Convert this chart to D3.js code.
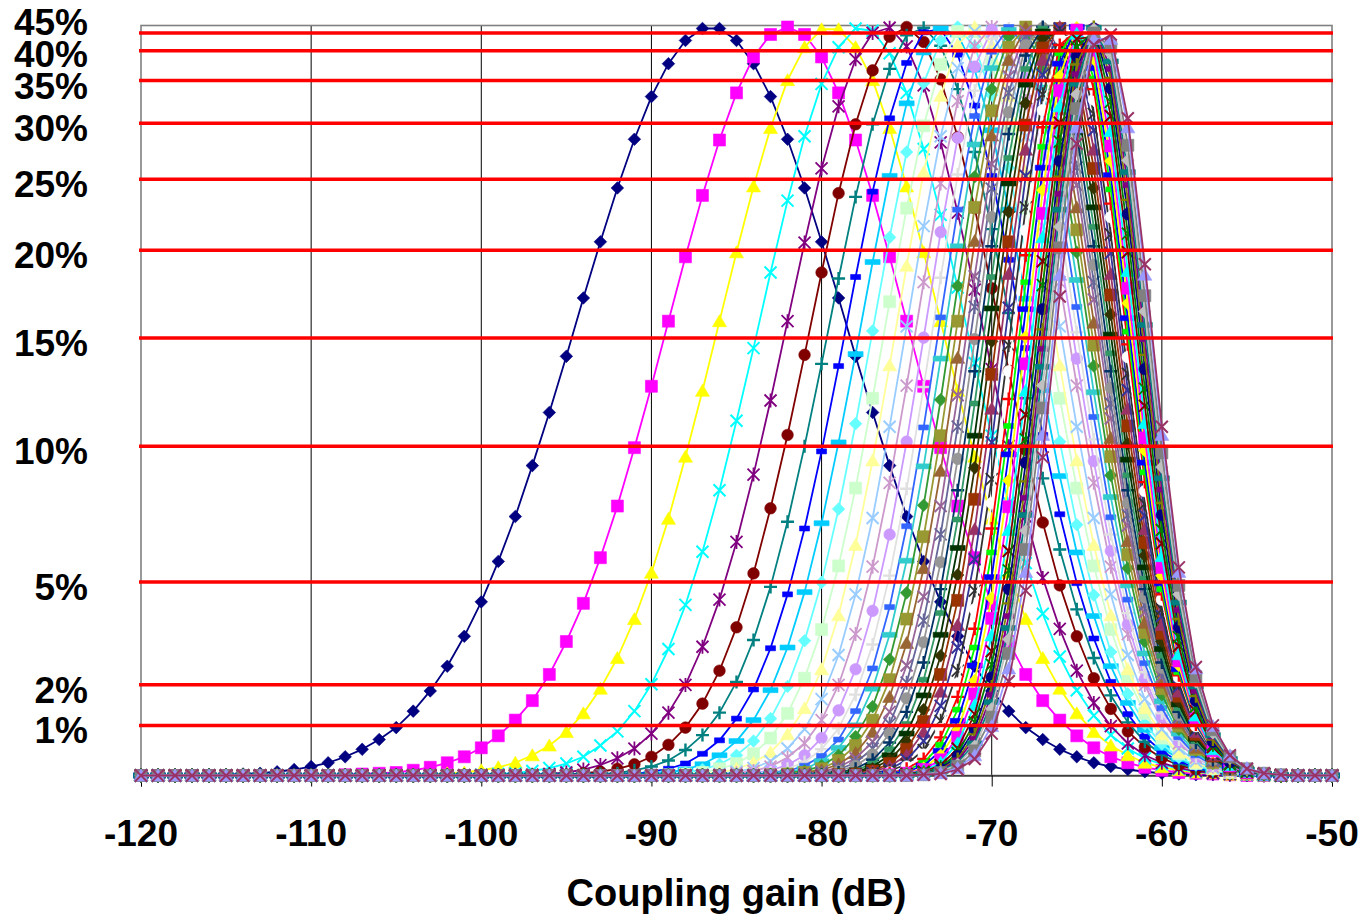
<!DOCTYPE html>
<html>
<head>
<meta charset="utf-8">
<script src="https://cdn.jsdelivr.net/npm/d3@7"></script>
<style>
  body { margin: 0; background: #ffffff; }
  svg { display: block; }
  text { font-family: "Liberation Sans", Arial, Helvetica, sans-serif; font-weight: bold; fill: #000; }
</style>
</head>
<body>
<svg id="chart" width="1364" height="917"></svg>
<script>
// Coupling gain grid (dB), one point per dB
const gainSteps = [-120,-119,-118,-117,-116,-115,-114,-113,-112,-111,-110,-109,-108,-107,-106,-105,-104,-103,-102,-101,
  -100,-99,-98,-97,-96,-95,-94,-93,-92,-91,-90,-89,-88,-87,-86,-85,-84,-83,-82,-81,-80,-79,-78,-77,-76,-75,-74,-73,-72,-71,
  -70,-69,-68,-67,-66,-65,-64,-63,-62,-61,-60,-59,-58,-57,-56,-55,-54,-53,-52,-51,-50];
const gainTicks = [-120,-110,-100,-90,-80,-70,-60,-50];
const gainDomain = [-120, -50];

// Horizontal reference levels: tail probability and the relative density (per mille of peak) it sits at
const levelLabels = ["1%","2%","5%","10%","15%","20%","25%","30%","35%","40%","45%"];
const levelValues = [66.9,121.3,258.5,439.9,584.5,701.8,796.6,871.5,928.5,968.4,992.1];

// Relative density (per mille of peak). Each curve starts at seriesStart (dB); outside its list it is 0.
const seriesStart = [-116,-108,-104,-100,-98,-96,-94,-92,-91,-90,-89,-88,-87,-86,-85,-85,-84,-84,-83,-83,-82,-82,-81,-81,
  -80,-80,-80,-79,-79,-78,-78,-78,-77,-77,-77,-76,-76,-76,-75,-75,-75,-75,-75,-75,-74,-74,-74,-74,-74];

const seriesValues = [
  [1,1,2,3,5,8,12,17,25,35,48,64,86,113,146,186,232,286,346,414,485,560,638,713,785,850,907,951,982,998,
   998,982,951,907,850,785,713,638,560,485,414,346,286,232,186,146,113,86,64,48,35,25,17,12,8,5,3,2,1,1],
  [1,2,3,4,7,11,17,25,37,53,74,100,135,179,230,291,360,438,520,607,693,775,849,912,960,990,1000,
   990,960,912,849,775,693,607,520,438,360,291,230,179,135,100,74,53,37,25,17,11,7,4,3,2,1],
  [1,1,3,4,7,11,17,27,40,58,83,116,157,209,271,343,426,514,607,699,787,865,929,973,997,
   997,973,929,865,787,699,607,514,426,343,271,209,157,116,83,58,40,27,17,11,7,4,3,1,1],
  [1,2,3,6,10,16,25,40,59,86,122,169,228,299,381,474,571,672,768,854,924,973,998,
   995,965,912,837,749,652,551,454,364,284,216,159,114,80,54,36,23,15,9,5,3,2,1],
  [1,1,2,4,8,14,23,36,56,84,121,172,235,312,402,501,607,712,811,894,957,992,
   999,974,922,846,752,649,543,440,346,264,196,140,97,66,43,27,17,10,6,3,2,1],
  [1,1,3,5,9,15,25,41,64,96,140,198,270,357,455,562,672,778,870,942,987,
   1000,980,930,853,758,651,541,435,338,254,186,130,89,59,38,23,14,8,4,2,1],
  [1,2,3,7,12,20,34,54,84,125,181,252,339,440,550,664,773,870,944,989,
   999,975,917,833,730,618,504,397,302,222,157,107,71,45,28,16,9,5,3,1],
  [1,2,5,9,16,29,47,76,115,170,242,330,433,547,666,780,878,952,993,
   997,963,895,801,689,571,455,349,257,183,125,82,52,32,19,10,6,3,1],
  [1,2,4,8,15,27,46,74,114,171,245,337,445,563,686,801,898,966,998,
   990,943,862,756,637,515,400,298,213,146,97,61,37,22,12,7,3,2,1],
  [1,2,4,8,15,27,46,76,119,180,258,356,470,594,719,833,925,982,
   1000,974,909,812,695,569,446,335,241,165,109,69,42,24,14,7,3,2,1],
  [1,2,4,9,16,29,50,83,130,195,280,384,504,633,758,868,950,994,
   994,950,868,758,633,504,384,280,195,130,83,50,29,16,9,4,2,1],
  [1,2,4,9,17,31,55,90,142,214,308,421,548,681,806,908,976,1000,
   976,908,806,681,548,421,308,214,142,90,55,31,17,9,4,2,1],
  [1,2,5,10,19,36,62,102,161,242,344,466,600,734,854,945,994,
   994,945,854,734,600,466,344,242,161,102,62,36,19,10,5,2,1],
  [1,3,6,12,24,43,74,121,189,279,391,521,659,791,901,974,1000,
   974,901,791,659,521,391,279,189,121,74,43,24,12,6,3,1],
  [1,3,7,14,27,50,87,142,220,322,446,585,726,852,947,996,
   990,932,829,699,557,420,300,202,129,78,45,25,12,6,3,1],
  [1,2,4,9,18,35,63,108,175,267,383,519,665,803,915,984,
   998,956,863,736,592,449,322,217,138,83,48,25,13,6,3,1],
  [1,3,6,13,26,48,86,143,225,333,465,612,756,881,967,1000,
   973,892,770,626,479,345,235,150,90,51,27,14,7,3,1],
  [1,2,4,9,19,37,67,116,188,287,413,557,707,843,945,996,
   987,919,805,662,512,372,254,163,99,56,30,15,7,3,1],
  [1,3,6,13,27,52,92,155,244,361,502,654,800,917,987,
   996,944,838,699,547,401,277,179,108,62,33,16,8,3,1],
  [1,2,4,9,20,40,74,128,209,319,454,607,759,888,973,
   1000,961,865,729,575,426,295,191,116,66,35,17,8,3,1],
  [1,3,7,15,30,58,105,177,277,407,558,714,855,956,999,
   975,890,759,605,451,313,204,124,70,37,19,8,4,1],
  [1,2,5,11,23,45,85,147,239,360,508,667,817,934,994,
   988,914,789,636,477,334,218,132,76,40,20,9,4,2],
  [1,3,8,17,36,69,124,207,322,466,626,784,912,987,
   994,932,812,659,497,348,228,138,78,41,20,9,4,2],
  [1,2,6,13,28,56,103,178,285,423,583,746,886,976,
   999,948,835,682,518,364,238,144,81,43,21,9,4,1],
  [1,4,9,21,44,85,151,249,381,540,707,857,962,1000,
   962,857,707,540,381,249,151,85,44,21,9,4,1],
  [1,3,7,16,35,69,128,217,342,497,666,825,944,998,
   975,879,733,564,401,263,160,90,46,22,10,4,1],
  [1,2,5,12,27,56,107,188,304,454,624,791,923,994,
   985,901,759,589,422,278,169,95,49,23,10,4,2],
  [1,4,9,21,45,88,160,268,411,580,753,898,985,
   993,921,785,616,443,294,179,99,52,25,11,4,2],
  [1,2,6,16,35,72,135,234,369,536,713,869,972,
   998,940,811,642,467,311,190,106,55,26,11,4,2],
  [2,5,12,27,58,112,201,329,490,670,836,956,1000,
   956,836,670,490,329,201,112,58,27,12,5,2],
  [1,3,8,21,46,93,171,289,445,625,801,936,998,
   971,862,698,515,347,213,119,61,29,12,5,2],
  [1,2,6,15,34,73,140,247,396,575,759,910,992,
   983,884,723,537,363,222,124,63,29,12,5,2],
  [1,4,12,28,62,123,222,364,540,728,889,985,
   990,903,746,559,380,235,131,66,31,13,5,2],
  [1,3,9,22,51,105,196,330,503,695,866,976,
   995,917,764,576,392,242,134,68,31,13,5,2],
  [1,2,7,17,41,88,171,298,467,659,840,965,
   998,931,783,593,405,249,138,69,31,13,4,2],
  [2,5,13,33,73,147,265,429,623,812,951,
   1000,945,802,611,418,257,142,70,31,13,4,1],
  [1,3,10,27,61,127,237,394,586,782,934,999,
   957,821,631,434,267,147,73,32,13,4,1],
  [1,3,8,21,51,109,210,359,550,751,915,996,
   969,841,651,451,278,153,76,33,13,4,1],
  [2,6,17,43,94,187,328,514,719,894,991,
   979,861,674,471,293,162,80,35,14,5,1],
  [2,5,14,36,82,166,300,482,687,872,984,
   987,881,699,494,310,173,86,38,15,5,2],
  [1,4,11,30,71,148,274,449,655,847,973,
   994,900,724,517,328,185,92,41,16,6,2],
  [1,3,9,26,62,131,249,418,623,821,961,
   998,918,750,543,348,198,100,45,18,6,2],
  [1,3,8,22,55,119,230,393,596,800,950,
   1000,932,769,562,364,209,106,48,19,7,2],
  [1,2,7,20,49,108,213,371,570,777,937,1000,
   944,789,583,382,221,113,52,21,7,2,1],
  [2,6,17,43,98,197,348,546,756,924,999,
   954,806,602,397,231,119,54,22,8,2,1],
  [1,5,15,39,89,182,327,521,733,910,997,
   964,822,620,412,242,125,57,23,8,3,1],
  [1,4,12,33,78,163,302,491,705,891,992,
   973,842,641,431,254,132,61,25,9,3,1],
  [1,3,10,27,66,143,272,455,669,866,984,
   984,866,669,455,272,143,66,27,10,3,1],
  [1,2,8,22,56,126,247,425,640,844,976,
   990,878,683,466,278,145,67,27,9,3,1]
];

// Series colours, in drawing order
const seriesColors = [
  "#000080","#FF00FF","#FFFF00","#00FFFF","#800080","#800000","#008080","#0000FF",
  "#00CCFF","#66FFFF","#CCFFCC","#FFFF99","#99CCFF","#CC99CC","#CC99FF","#E0E0E0",
  "#3366FF","#33CCCC","#339933","#999933","#996633","#996699","#666699","#969696",
  "#003366","#339966","#003300","#333300","#993300","#993366","#333399","#333333",
  "#FFFFFF","#FF0000","#00FF00","#0000FF","#FFFF00","#FF00FF","#00FFFF","#800000",
  "#008000","#000080","#808000","#800080","#008080","#C0C0C0","#808080","#9999FF","#993366"
];
const markerCycle = ["diamond","square","triangle","x","star","circle","plus","dot","dash"];

// ---------------------------------------------------------------------------
const svg = d3.select("#chart");
const W = 1364, H = 917;
const plot = { left: 141, right: 1332, top: 25.5, bottom: 775.5 };

const x = d3.scaleLinear().domain(gainDomain).range([plot.left, plot.right]);
const y = d3.scaleLinear().domain([0, 1000]).range([plot.bottom, 27]);

svg.append("rect").attr("width", W).attr("height", H).attr("fill", "#fff");

// vertical gridlines
svg.append("g").selectAll("line")
  .data(gainTicks.filter(t => t > gainDomain[0] && t < gainDomain[1]))
  .join("line")
  .attr("x1", d => x(d)).attr("x2", d => x(d))
  .attr("y1", plot.top).attr("y2", plot.bottom)
  .attr("stroke", "#000").attr("stroke-width", 1);

// plot frame (grey)
svg.append("rect")
  .attr("x", plot.left).attr("y", plot.top)
  .attr("width", plot.right - plot.left).attr("height", plot.bottom - plot.top)
  .attr("fill", "none").attr("stroke", "#808080").attr("stroke-width", 1.6);

// x axis
const xAxis = d3.axisBottom(x).tickValues(gainTicks).tickSize(11).tickFormat(d => String(d));
const axisG = svg.append("g").attr("transform", `translate(0,${plot.bottom})`).call(xAxis);
axisG.select(".domain").attr("stroke", "#000").attr("stroke-width", 1);
axisG.selectAll(".tick line").attr("stroke", "#000").attr("stroke-width", 1);
axisG.selectAll(".tick text").remove();

// marker shapes
function markerPath(kind) {
  switch (kind) {
    case "diamond":  return "M0,-6.3L6.3,0L0,6.3L-6.3,0Z";
    case "square":   return "M-6,-6H6V6H-6Z";
    case "triangle": return "M0,-6.5L7,5.5L-7,5.5Z";
    case "circle":   return "M5.8,0A5.8,5.8 0 1,1 -5.8,0A5.8,5.8 0 1,1 5.8,0Z";
    case "x":        return "M-6,-6L6,6M-6,6L6,-6";
    case "star":     return "M-6,-6L6,6M-6,6L6,-6M0,-7V7";
    case "plus":     return "M-6.5,0H6.5M0,-6.5V6.5";
    case "dot":      return "M-5,-2.5H5V2.5H-5Z";
    case "dash":     return "M-7.5,-2.5H7.5V2.5H-7.5Z";
  }
}
const strokedMarkers = new Set(["x","star","plus"]);

const line = d3.line().x(d => x(d.g)).y(d => y(d.v));
const seriesG = svg.append("g");

seriesValues.forEach((vals, k) => {
  const start = seriesStart[k];
  const pts = gainSteps.map(g => {
    const i = g - start;
    return { g, v: (i >= 0 && i < vals.length) ? vals[i] : 0 };
  });
  const color = seriesColors[k];
  const kind = markerCycle[k % markerCycle.length];
  const g = seriesG.append("g");
  g.append("path").datum(pts).attr("d", line)
    .attr("fill", "none").attr("stroke", color).attr("stroke-width", 1.8)
    .attr("stroke-linejoin", "round");
  const m = g.selectAll("path.m").data(pts).join("path")
    .attr("class", "m")
    .attr("d", markerPath(kind))
    .attr("transform", d => `translate(${x(d.g)},${y(d.v)})`);
  if (strokedMarkers.has(kind)) {
    m.attr("fill", "none").attr("stroke", color)
     .attr("stroke-width", kind === "plus" ? 2.4 : (kind === "star" ? 1.8 : 2));
  } else {
    m.attr("fill", color).attr("stroke", color).attr("stroke-width", 0.6);
  }
});

// red reference levels
svg.append("g").selectAll("line").data(levelValues).join("line")
  .attr("x1", plot.left - 2).attr("x2", plot.right + 1)
  .attr("y1", d => y(d)).attr("y2", d => y(d))
  .attr("stroke", "#FF0000").attr("stroke-width", 3.5);

// level labels: centred just below their line, pushed up where they would collide
const labelCentres = [];
levelValues.forEach((v, i) => {
  let c = y(v) + 5;
  if (i > 0) c = Math.min(c, labelCentres[i - 1] - 32);
  labelCentres.push(c);
});
svg.append("g").selectAll("text").data(levelLabels).join("text")
  .attr("x", 88).attr("y", (d, i) => labelCentres[i] + 13)
  .attr("text-anchor", "end").attr("font-size", 37)
  .text(d => d);

// tick labels
svg.append("g").selectAll("text").data(gainTicks).join("text")
  .attr("x", d => x(d)).attr("y", 846)
  .attr("text-anchor", "middle").attr("font-size", 37)
  .text(d => String(d));

// axis title
svg.append("text")
  .attr("x", (plot.left + plot.right) / 2).attr("y", 906)
  .attr("text-anchor", "middle").attr("font-size", 38)
  .text("Coupling gain (dB)");
</script>
</body>
</html>
